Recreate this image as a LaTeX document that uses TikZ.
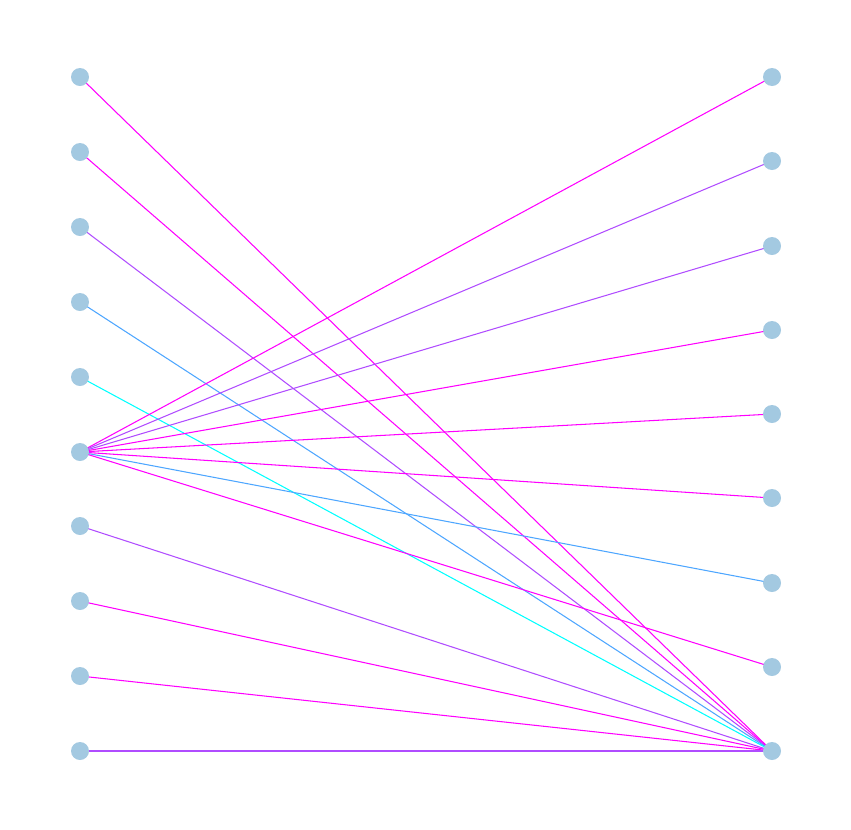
\documentclass[tikz,border=0pt]{standalone}
\usepackage{xcolor}

\definecolor{nodeblue}{HTML}{A3C9E1}
\definecolor{edgemag}{HTML}{FF00FF}
\definecolor{edgeviolet}{HTML}{B04CFF}
\definecolor{edgeblue}{HTML}{4DA6FF}
\definecolor{edgecyan}{HTML}{00FFFF}

\begin{document}
\begin{tikzpicture}[x=0.02cm, y=-0.02cm]
        \useasboundingbox (0, 0) rectangle (851, 829);

        % Define left column vertices
        \coordinate (L1) at (80, 77);     % Top
        \coordinate (L2) at (80, 152);
        \coordinate (L3) at (80, 227);
        \coordinate (L4) at (80, 302);
        \coordinate (L5) at (80, 377);
        \coordinate (L6) at (80, 452);    % Hub
        \coordinate (L7) at (80, 526);
        \coordinate (L8) at (80, 601);
        \coordinate (L9) at (80, 676);
        \coordinate (L10) at (80, 751);   % Bottom

        % Define right column vertices
        \coordinate (R1) at (772, 77);    % Top
        \coordinate (R2) at (772, 161);
        \coordinate (R3) at (772, 246);
        \coordinate (R4) at (772, 330);
        \coordinate (R5) at (772, 414);
        \coordinate (R6) at (772, 498);
        \coordinate (R7) at (772, 583);
        \coordinate (R8) at (772, 667);
        \coordinate (R9) at (772, 751);   % Bottom

        % Draw lines from left vertices to the bottom right vertex
        \draw[line width=0.6pt, edgemag] (L1) -- (R9);
        \draw[line width=0.6pt, edgemag] (L2) -- (R9);
        \draw[line width=0.6pt, edgeviolet] (L3) -- (R9);
        \draw[line width=0.6pt, edgeblue] (L4) -- (R9);
        \draw[line width=0.6pt, edgecyan] (L5) -- (R9);
        \draw[line width=0.6pt, edgeviolet] (L7) -- (R9);
        \draw[line width=0.6pt, edgemag] (L8) -- (R9);
        \draw[line width=0.6pt, edgemag] (L9) -- (R9);
        \draw[line width=0.6pt, edgeviolet] (L10) -- (R9);

        % Draw lines from the hub to the right vertices
        \draw[line width=0.6pt, edgemag] (L6) -- (R1);
        \draw[line width=0.6pt, edgeviolet] (L6) -- (R2);
        \draw[line width=0.6pt, edgeviolet] (L6) -- (R3);
        \draw[line width=0.6pt, edgemag] (L6) -- (R4);
        \draw[line width=0.6pt, edgemag] (L6) -- (R5);
        \draw[line width=0.6pt, edgemag] (L6) -- (R6);
        \draw[line width=0.6pt, edgeblue] (L6) -- (R7);
        \draw[line width=0.6pt, edgemag] (L6) -- (R8);

        % Draw dots at vertices
        \fill[nodeblue] (L1) circle (9);
        \fill[nodeblue] (L2) circle (9);
        \fill[nodeblue] (L3) circle (9);
        \fill[nodeblue] (L4) circle (9);
        \fill[nodeblue] (L5) circle (9);
        \fill[nodeblue] (L6) circle (9);
        \fill[nodeblue] (L7) circle (9);
        \fill[nodeblue] (L8) circle (9);
        \fill[nodeblue] (L9) circle (9);
        \fill[nodeblue] (L10) circle (9);
        \fill[nodeblue] (R1) circle (9);
        \fill[nodeblue] (R2) circle (9);
        \fill[nodeblue] (R3) circle (9);
        \fill[nodeblue] (R4) circle (9);
        \fill[nodeblue] (R5) circle (9);
        \fill[nodeblue] (R6) circle (9);
        \fill[nodeblue] (R7) circle (9);
        \fill[nodeblue] (R8) circle (9);
        \fill[nodeblue] (R9) circle (9);
    \end{tikzpicture}
\end{document}
